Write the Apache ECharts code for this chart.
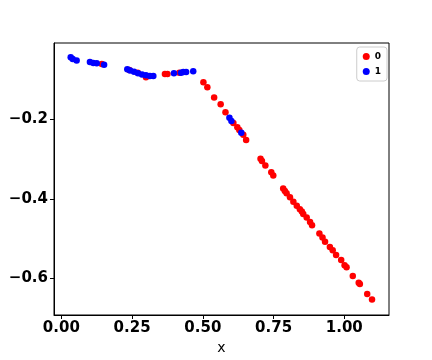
<!DOCTYPE html>
<html>
<head>
<meta charset="utf-8">
<script src="https://cdn.jsdelivr.net/npm/echarts@6/dist/echarts.min.js"></script>
<style>
  html, body { margin: 0; padding: 0; background: #fff; }
  #chart { width: 432px; height: 360px; }
</style>
</head>
<body>
<div id="chart"></div>
<script>
// class 0 (red)
const xs0 = [0.143, 0.240, 0.270, 0.299, 0.366, 0.375, 0.417,
  0.502, 0.516, 0.540, 0.563, 0.580, 0.608, 0.622, 0.629, 0.643, 0.653,
  0.704, 0.709, 0.721, 0.742, 0.749, 0.784, 0.790, 0.796, 0.808, 0.820,
  0.832, 0.843, 0.850, 0.855, 0.867, 0.879, 0.886, 0.912, 0.923, 0.932,
  0.949, 0.959, 0.971, 0.989, 1.001, 1.008, 1.030, 1.051, 1.055, 1.081, 1.098];
const ys0 = [-0.061, -0.076, -0.083, -0.094, -0.086, -0.086, -0.083,
  -0.107, -0.119, -0.145, -0.162, -0.182, -0.209, -0.220, -0.227, -0.239, -0.252,
  -0.299, -0.305, -0.316, -0.333, -0.341, -0.374, -0.380, -0.386, -0.396, -0.407,
  -0.417, -0.426, -0.432, -0.438, -0.447, -0.458, -0.466, -0.487, -0.497, -0.508,
  -0.521, -0.529, -0.541, -0.554, -0.567, -0.572, -0.594, -0.611, -0.614, -0.639, -0.653];
// class 1 (blue)
const xs1 = [0.033, 0.040, 0.054, 0.101, 0.113, 0.125, 0.151,
  0.233, 0.243, 0.257, 0.271, 0.285, 0.299, 0.313, 0.325,
  0.398, 0.423, 0.431, 0.441, 0.466, 0.594, 0.601, 0.636];
const ys1 = [-0.044, -0.048, -0.052, -0.056, -0.058, -0.059, -0.063,
  -0.074, -0.077, -0.080, -0.084, -0.087, -0.089, -0.091, -0.091,
  -0.084, -0.083, -0.081, -0.081, -0.079, -0.196, -0.204, -0.234];
const xTicks = [0, 0.25, 0.5, 0.75, 1.0];
const yTicks = [-0.6, -0.4, -0.2];

const pairs = (xs, ys) => xs.map((x, i) => [x, ys[i]]);
const minus = s => s.replace('-', '\u2212');

const chart = echarts.init(document.getElementById('chart'));
chart.setOption({
  animation: false,
  textStyle: { fontFamily: 'DejaVu Sans' },
  grid: {
    left: 54, right: 43, top: 43, bottom: 45,
    outerBoundsMode: 'none', containLabel: false,
    show: true, borderColor: '#000', borderWidth: 1, backgroundColor: 'transparent'
  },
  legend: {
    orient: 'vertical', right: 45, top: 47,
    icon: 'circle', itemWidth: 7, itemHeight: 7, itemGap: 6,
    borderColor: '#ccc', borderWidth: 1, borderRadius: 3, padding: [5, 6, 5, 6],
    textStyle: { fontSize: 9, fontWeight: 'bold', color: '#000' },
    data: ['0', '1']
  },
  xAxis: {
    type: 'value', min: -0.026, max: 1.158,
    name: 'x', nameLocation: 'middle', nameGap: 26,
    nameTextStyle: { fontSize: 14, color: '#000' },
    axisLine: { show: true, onZero: false, lineStyle: { color: '#000' } },
    axisTick: { show: true, length: 4, customValues: xTicks, lineStyle: { color: '#000' } },
    axisLabel: {
      customValues: xTicks, fontSize: 15, fontWeight: 'bold', color: '#000', margin: 6,
      formatter: v => v.toFixed(2)
    },
    splitLine: { show: false }
  },
  yAxis: {
    type: 'value', min: -0.692, max: -0.008,
    name: 'y', nameLocation: 'middle', nameGap: 53,
    nameTextStyle: { fontSize: 14, color: '#000' },
    axisLine: { show: true, onZero: false, lineStyle: { color: '#000' } },
    axisTick: { show: true, length: 4, customValues: yTicks, lineStyle: { color: '#000' } },
    axisLabel: {
      customValues: yTicks, fontSize: 15, fontWeight: 'bold', color: '#000', margin: 6,
      formatter: v => minus(v.toFixed(1))
    },
    splitLine: { show: false }
  },
  series: [
    { name: '0', type: 'scatter', symbolSize: 6.5, itemStyle: { color: '#ff0000', opacity: 1 }, data: pairs(xs0, ys0) },
    { name: '1', type: 'scatter', symbolSize: 6.5, itemStyle: { color: '#0000ff', opacity: 1 }, data: pairs(xs1, ys1) }
  ]
});
</script>
</body>
</html>
